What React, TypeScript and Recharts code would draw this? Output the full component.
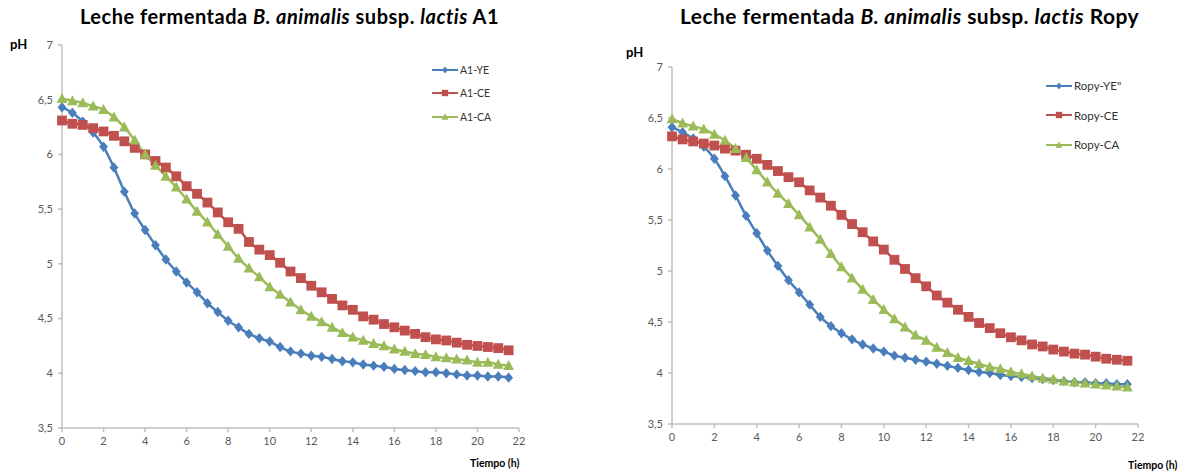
import React from 'react';
import { LineChart, Line, XAxis, YAxis, Legend } from 'recharts';

const tiempo = [0, 0.5, 1, 1.5, 2, 2.5, 3, 3.5, 4, 4.5, 5, 5.5, 6, 6.5, 7, 7.5, 8, 8.5, 9, 9.5, 10, 10.5, 11, 11.5, 12, 12.5, 13, 13.5, 14, 14.5, 15, 15.5, 16, 16.5, 17, 17.5, 18, 18.5, 19, 19.5, 20, 20.5, 21, 21.5];

const a1YE = [6.43, 6.38, 6.3, 6.2, 6.07, 5.88, 5.66, 5.46, 5.31, 5.17, 5.04, 4.93, 4.83, 4.74, 4.64, 4.56, 4.48, 4.42, 4.36, 4.32, 4.29, 4.24, 4.2, 4.18, 4.16, 4.15, 4.13, 4.11, 4.1, 4.08, 4.07, 4.06, 4.04, 4.03, 4.02, 4.01, 4.01, 4.0, 3.99, 3.98, 3.98, 3.97, 3.97, 3.96];
const a1CE = [6.31, 6.28, 6.27, 6.24, 6.21, 6.17, 6.12, 6.06, 6.0, 5.94, 5.88, 5.8, 5.71, 5.64, 5.56, 5.47, 5.38, 5.32, 5.2, 5.13, 5.08, 5.01, 4.93, 4.87, 4.8, 4.74, 4.68, 4.62, 4.58, 4.52, 4.49, 4.45, 4.42, 4.39, 4.36, 4.33, 4.31, 4.3, 4.28, 4.26, 4.25, 4.24, 4.23, 4.21];
const a1CA = [6.51, 6.49, 6.47, 6.44, 6.41, 6.34, 6.25, 6.13, 6.0, 5.9, 5.8, 5.7, 5.59, 5.48, 5.38, 5.27, 5.16, 5.05, 4.96, 4.88, 4.79, 4.72, 4.65, 4.58, 4.52, 4.47, 4.42, 4.37, 4.33, 4.3, 4.27, 4.25, 4.22, 4.2, 4.18, 4.17, 4.15, 4.14, 4.13, 4.12, 4.1, 4.1, 4.08, 4.07];

const ropyYE = [6.41, 6.36, 6.3, 6.22, 6.1, 5.93, 5.74, 5.54, 5.37, 5.2, 5.05, 4.91, 4.79, 4.67, 4.55, 4.46, 4.39, 4.33, 4.28, 4.24, 4.21, 4.17, 4.15, 4.13, 4.11, 4.09, 4.07, 4.05, 4.03, 4.01, 4.0, 3.98, 3.97, 3.96, 3.95, 3.94, 3.93, 3.92, 3.91, 3.91, 3.9, 3.9, 3.89, 3.89];
const ropyCE = [6.32, 6.29, 6.27, 6.25, 6.23, 6.2, 6.18, 6.14, 6.1, 6.04, 5.98, 5.92, 5.87, 5.79, 5.72, 5.64, 5.55, 5.46, 5.38, 5.29, 5.21, 5.11, 5.02, 4.93, 4.85, 4.76, 4.69, 4.62, 4.55, 4.49, 4.44, 4.39, 4.35, 4.32, 4.28, 4.26, 4.23, 4.21, 4.19, 4.18, 4.16, 4.14, 4.13, 4.12];
const ropyCA = [6.49, 6.45, 6.42, 6.39, 6.34, 6.28, 6.2, 6.11, 5.99, 5.87, 5.76, 5.66, 5.55, 5.43, 5.31, 5.17, 5.04, 4.93, 4.82, 4.72, 4.62, 4.53, 4.45, 4.37, 4.32, 4.25, 4.2, 4.15, 4.12, 4.09, 4.06, 4.04, 4.01, 3.99, 3.97, 3.95, 3.94, 3.92, 3.91, 3.9, 3.89, 3.88, 3.87, 3.86];

const xTicks = [0, 2, 4, 6, 8, 10, 12, 14, 16, 18, 20, 22];
const yTicks = [3.5, 4, 4.5, 5, 5.5, 6, 6.5, 7];

const BLUE = '#4a7ebb';
const RED = '#c0504d';
const GREEN = '#9bbb59';
const AXIS = '#bfbfbf';
const FONT = 'Lato, "Open Sans", sans-serif';

type Shape = 'diamond' | 'square' | 'triangle';

const markerPath = (shape: Shape, cx: number, cy: number, s: number) => {
  if (shape === 'diamond') return `M${cx},${cy - s}L${cx + s * 0.85},${cy}L${cx},${cy + s}L${cx - s * 0.85},${cy}Z`;
  if (shape === 'square') return `M${cx - s},${cy - s}H${cx + s}V${cy + s}H${cx - s}Z`;
  return `M${cx},${cy - s * 1.05}L${cx + s},${cy + s * 0.8}L${cx - s},${cy + s * 0.8}Z`;
};

const markerSize: Record<Shape, number> = { diamond: 5.2, square: 4.9, triangle: 5.4 };

const makeDot = (shape: Shape, color: string) => (props: any) => {
  const { cx, cy, index } = props;
  if (cx == null || cy == null) return <g key={index} />;
  return <path key={index} d={markerPath(shape, cx, cy, markerSize[shape])} fill={color} />;
};

interface SeriesDef {
  name: string;
  values: number[];
  color: string;
  shape: Shape;
}

const fmt = (v: number) => String(v).replace('.', ',');

const LegendBox: React.FC<{ series: SeriesDef[]; gap: number; fontSize: number }> = ({ series, gap, fontSize }) => (
  <div style={{ fontFamily: FONT, fontSize, color: '#333' }}>
    {series.map((s) => (
      <div key={s.name} style={{ display: 'flex', alignItems: 'center', height: gap, whiteSpace: 'nowrap' }}>
        <svg width={26} height={12} style={{ marginRight: 2 }}>
          <line x1={0} y1={6} x2={26} y2={6} stroke={s.color} strokeWidth={2} />
          <path d={markerPath(s.shape, 13, 6, markerSize[s.shape] * 0.65)} fill={s.color} />
        </svg>
        <span>{s.name}</span>
      </div>
    ))}
  </div>
);

interface PanelProps {
  left: number;
  suffix: string;
  titleLeft: number;
  titleTop: number;
  titleSize: number;
  titleSpacing: number;
  series: SeriesDef[];
  plotTop: number;
  plotBottom: number;
  yAxisWidth: number;
  rightMargin: number;
  legendLeft: number;
  legendTop: number;
  legendGap: number;
  legendFont: number;
  phLeft: number;
  phTop: number;
  tiempoLeft: number;
  tiempoTop: number;
}

const Panel: React.FC<PanelProps> = (p) => {
  const data = tiempo.map((t, i) => {
    const row: Record<string, number> = { t };
    p.series.forEach((s) => {
      row[s.name] = s.values[i];
    });
    return row;
  });
  return (
    <div style={{ position: 'absolute', left: p.left, top: 0, width: 589, height: 472 }}>
      <div
        style={{
          position: 'absolute',
          left: p.titleLeft,
          top: p.titleTop,
          fontFamily: FONT,
          fontWeight: 700,
          fontSize: p.titleSize,
          letterSpacing: p.titleSpacing,
          whiteSpace: 'nowrap',
          color: '#000',
        }}
      >
        Leche fermentada <i>B. animalis</i> subsp. <i>lactis</i> {p.suffix}
      </div>
      <div style={{ position: 'absolute', left: p.phLeft, top: p.phTop, fontFamily: FONT, fontWeight: 700, fontSize: 13 }}>pH</div>
      <div
        style={{
          position: 'absolute',
          left: p.tiempoLeft,
          top: p.tiempoTop,
          fontFamily: FONT,
          fontWeight: 700,
          fontSize: 10.5,
          whiteSpace: 'nowrap',
        }}
      >
        Tiempo (h)
      </div>
      <LineChart
        width={560}
        height={472}
        data={data}
        margin={{ top: p.plotTop, right: p.rightMargin, left: 0, bottom: 472 - p.plotBottom - 20 }}
      >
        <XAxis
          dataKey="t"
          type="number"
          domain={[0, 22]}
          ticks={xTicks}
          height={20}
          stroke={AXIS}
          strokeWidth={1.5}
          tickSize={4}
          tickMargin={5}
          tick={{ fill: '#595959', fontSize: 11, fontFamily: FONT }}
        />
        <YAxis
          type="number"
          domain={[3.5, 7]}
          ticks={yTicks}
          width={p.yAxisWidth}
          stroke={AXIS}
          strokeWidth={1.5}
          tickSize={4}
          tickMargin={5}
          tickFormatter={fmt}
          tick={{ fill: '#595959', fontSize: 11, fontFamily: FONT }}
        />
        <Legend
          layout="vertical"
          align="center"
          verticalAlign="middle"
          wrapperStyle={{ left: p.legendLeft, top: p.legendTop, width: 'auto' }}
          content={() => <LegendBox series={p.series} gap={p.legendGap} fontSize={p.legendFont} />}
        />
        {p.series.map((s) => (
          <Line
            key={s.name}
            type="monotone"
            dataKey={s.name}
            stroke={s.color}
            strokeWidth={2.5}
            dot={makeDot(s.shape, s.color)}
            activeDot={false}
            isAnimationActive={false}
          />
        ))}
      </LineChart>
    </div>
  );
};

const leftSeries: SeriesDef[] = [
  { name: 'A1-YE', values: a1YE, color: BLUE, shape: 'diamond' },
  { name: 'A1-CE', values: a1CE, color: RED, shape: 'square' },
  { name: 'A1-CA', values: a1CA, color: GREEN, shape: 'triangle' },
];

const rightSeries: SeriesDef[] = [
  { name: 'Ropy-YE"', values: ropyYE, color: BLUE, shape: 'diamond' },
  { name: 'Ropy-CE', values: ropyCE, color: RED, shape: 'square' },
  { name: 'Ropy-CA', values: ropyCA, color: GREEN, shape: 'triangle' },
];

export default function App() {
  return (
    <div style={{ position: 'absolute', left: 0, top: 0, width: 1189, height: 472, background: '#fff', overflow: 'hidden' }}>
      <Panel
        left={0}
        suffix="A1"
        titleLeft={80}
        titleTop={4}
        titleSize={20}
        titleSpacing={0.5}
        series={leftSeries}
        plotTop={45}
        plotBottom={428}
        yAxisWidth={62}
        rightMargin={41}
        legendLeft={432}
        legendTop={58}
        legendGap={23.5}
        legendFont={10.5}
        phLeft={10}
        phTop={36}
        tiempoLeft={470}
        tiempoTop={457}
      />
      <Panel
        left={600}
        suffix="Ropy"
        titleLeft={80}
        titleTop={3}
        titleSize={21}
        titleSpacing={0.45}
        series={rightSeries}
        plotTop={67}
        plotBottom={424}
        yAxisWidth={72}
        rightMargin={22}
        legendLeft={446}
        legendTop={71}
        legendGap={29.5}
        legendFont={11.5}
        phLeft={26}
        phTop={44}
        tiempoLeft={528}
        tiempoTop={459}
      />
    </div>
  );
}
